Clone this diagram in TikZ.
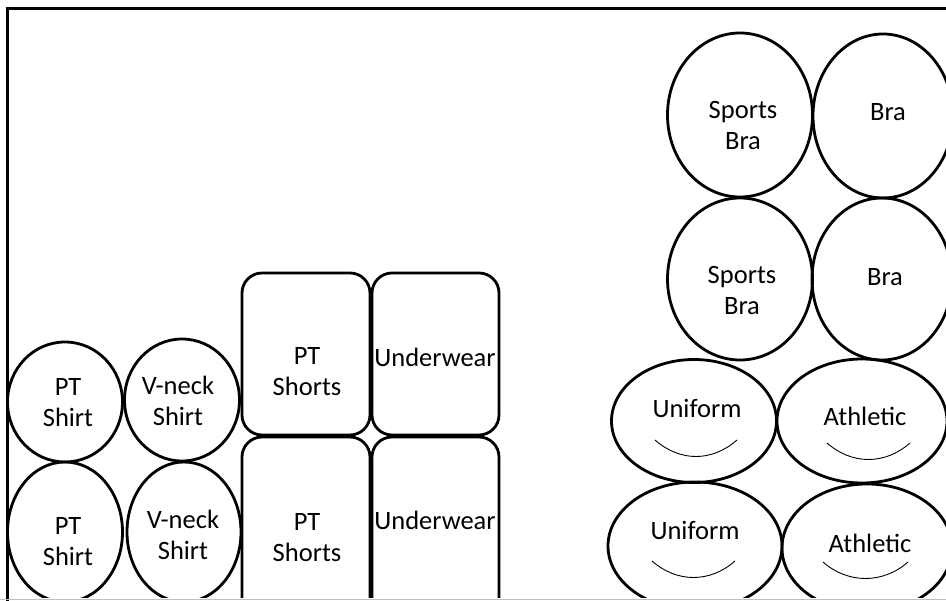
\documentclass[tikz,border=0pt]{standalone}
\usepackage{fontspec}
\setmainfont{Carlito}
\usetikzlibrary{shapes.geometric}
\begin{document}
\begin{tikzpicture}[x=1pt,y=-1pt,
  ell/.style={draw=black,line width=2.8pt,ellipse,inner sep=0pt},
  rbox/.style={draw=black,line width=2.8pt,rounded corners=20pt},
  lbl/.style={font=\fontsize{26.5}{31}\selectfont,align=center,inner sep=0pt},
  smile/.style={draw=black,line width=0.9pt}]
\useasboundingbox (0,0) rectangle (946,601);
\begin{scope}
\clip (0,0) rectangle (946,598);
% left column ellipses
\node[ell,minimum width=115pt,minimum height=120pt] (ps1) at (65,402) {};
\node[ell,minimum width=115pt,minimum height=140pt] (ps2) at (65,532) {};
\node[ell,minimum width=115pt,minimum height=122pt] (vn1) at (182,400) {};
\node[ell,minimum width=114pt,minimum height=140pt] (vn2) at (184,532) {};
% rounded boxes
\draw[rbox] (242,273) rectangle (370,435);
\draw[rbox] (372,273) rectangle (499,435);
\draw[rbox] (242,437) rectangle (370,620);
\draw[rbox] (372,437) rectangle (499,620);
% right side
\node[ell,minimum width=145pt,minimum height=164pt] (sb1) at (740,115) {};
\node[ell,minimum width=140pt,minimum height=164pt] (br1) at (883,116) {};
\node[ell,minimum width=145pt,minimum height=162pt] (sb2) at (740,279) {};
\node[ell,minimum width=140pt,minimum height=162pt] (br2) at (882,279) {};
\node[ell,minimum width=165pt,minimum height=123pt] (un1) at (694,421) {};
\node[ell,minimum width=170pt,minimum height=124pt] (at1) at (862,421) {};
\node[ell,minimum width=174pt,minimum height=128pt] (un2) at (695,546) {};
\node[ell,minimum width=170pt,minimum height=128pt] (at2) at (867,548) {};
% smiles
\draw[smile] (655,440) .. controls (680,462) and (712,462) .. (737,440);
\draw[smile] (827,443) .. controls (852,465) and (885,465) .. (910,443);
\draw[smile] (652,561) .. controls (677,583) and (710,583) .. (735,561);
\draw[smile] (823,562) .. controls (848,584) and (883,584) .. (908,562);
% labels
\node[lbl] (tps1) at (68,403) {PT\\Shirt};
\node[lbl] (tps2) at (68,542) {PT\\Shirt};
\node[lbl] (tvn1) at (178,401) {V-neck\\Shirt};
\node[lbl] (tvn2) at (183,535) {V-neck\\Shirt};
\node[lbl] (tsh1) at (307,372) {PT\\Shorts};
\node[lbl] (tsh2) at (307,538) {PT\\Shorts};
\node[lbl] (tuw1) at (435,357) {Underwear};
\node[lbl] (tuw2) at (435,520) {Underwear};
\node[lbl] (tsb1) at (743,126) {Sports\\Bra};
\node[lbl] (tsb2) at (742,291) {Sports\\Bra};
\node[lbl] (tbr1) at (888,112) {Bra};
\node[lbl] (tbr2) at (885,277) {Bra};
\node[lbl] (tun1) at (697,408) {Uniform};
\node[lbl] (tun2) at (695,530) {Uniform};
\node[lbl] (tat1) at (865,416) {Athletic};
\node[lbl] (tat2) at (870,543) {Athletic};
\end{scope}
% frame
\draw[line width=3pt] (7.5,601) -- (7.5,8.5) -- (946,8.5);
\draw[gray!50,line width=1pt] (0,599) -- (946,599);
\end{tikzpicture}
\end{document}
